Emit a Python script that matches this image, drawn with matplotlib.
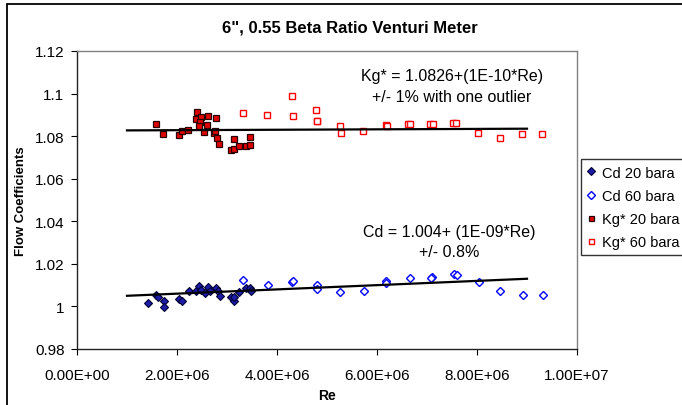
import matplotlib
matplotlib.use('Agg')
import matplotlib.pyplot as plt
from matplotlib.patches import Rectangle
from matplotlib.ticker import FuncFormatter, MultipleLocator
import numpy as np

plt.rcParams['font.family'] = ['Liberation Sans', 'DejaVu Sans']

# Cd 20 bara
re_cd20 = [1.41e6, 1.58e6, 1.61e6, 1.74e6, 1.73e6, 2.03e6, 2.10e6, 2.23e6, 2.38e6, 2.44e6,
           2.47e6, 2.55e6, 2.61e6, 2.66e6, 2.77e6, 2.81e6, 2.86e6, 3.07e6, 3.13e6, 3.14e6,
           3.25e6, 3.39e6, 3.47e6, 3.49e6]
cd20 = [1.0015, 1.0054, 1.0043, 1.0024, 0.9997, 1.0035, 1.0027, 1.0071, 1.0074, 1.0097,
        1.0079, 1.0062, 1.0090, 1.0074, 1.0085, 1.0071, 1.0048, 1.0046, 1.0024, 1.0043,
        1.0069, 1.0085, 1.0085, 1.0073]

# Cd 60 bara
re_cd60 = [3.33e6, 3.81e6, 4.30e6, 4.31e6, 4.79e6, 4.79e6, 5.26e6, 5.73e6, 6.18e6, 6.18e6,
           6.66e6, 7.11e6, 7.09e6, 7.55e6, 7.60e6, 8.04e6, 8.47e6, 8.91e6, 9.31e6]
cd60 = [1.0126, 1.0101, 1.0116, 1.0118, 1.0101, 1.0082, 1.0066, 1.0074, 1.0121, 1.0111,
        1.0134, 1.0140, 1.0133, 1.0152, 1.0147, 1.0116, 1.0074, 1.0054, 1.0054]

# Kg* 20 bara
re_kg20 = [1.57e6, 1.72e6, 2.03e6, 2.09e6, 2.21e6, 2.39e6, 2.37e6, 2.48e6, 2.61e6, 2.46e6,
           2.44e6, 2.59e6, 2.54e6, 2.78e6, 2.73e6, 2.76e6, 2.80e6, 2.84e6, 3.13e6, 3.07e6,
           3.13e6, 3.23e6, 3.38e6, 3.46e6, 3.47e6]
kg20 = [1.0857, 1.0810, 1.0807, 1.0826, 1.0830, 1.0912, 1.0881, 1.0891, 1.0896, 1.0865,
        1.0846, 1.0852, 1.0818, 1.0887, 1.0813, 1.0826, 1.0790, 1.0762, 1.0787, 1.0735,
        1.0740, 1.0755, 1.0755, 1.0760, 1.0797]

# Kg* 60 bara
re_kg60 = [3.32e6, 3.79e6, 4.29e6, 4.31e6, 4.77e6, 4.79e6, 4.80e6, 5.25e6, 5.27e6, 5.72e6,
           6.17e6, 6.20e6, 6.63e6, 6.67e6, 7.07e6, 7.13e6, 7.53e6, 7.59e6, 8.03e6, 8.46e6,
           8.90e6, 9.29e6]
kg60 = [1.0907, 1.0898, 1.0989, 1.0893, 1.0923, 1.0873, 1.0870, 1.0849, 1.0815, 1.0826,
        1.0852, 1.0850, 1.0857, 1.0857, 1.0857, 1.0857, 1.0862, 1.0862, 1.0816, 1.0790,
        1.0810, 1.0810]

# trend line fits
re_fit = np.array([1.0e6, 9.0e6])
kg_fit = 1.0826 + 1e-10 * re_fit
cd_fit = 1.004 + 1e-9 * re_fit

fig = plt.figure(figsize=(6.82, 4.06), dpi=100)
ax = fig.add_axes([77 / 682, 1 - 350 / 406, 500 / 682, 298 / 406])

ax.plot(re_cd20, cd20, linestyle='none', marker='D', markersize=4.5,
        markerfacecolor='#1c1ca8', markeredgecolor='#000033', markeredgewidth=0.8,
        label='Cd 20 bara', zorder=3)
ax.plot(re_cd60, cd60, linestyle='none', marker='D', markersize=4.5,
        markerfacecolor='white', markeredgecolor='#0000ff', markeredgewidth=1.0,
        label='Cd 60 bara', zorder=3)
ax.plot(re_kg20, kg20, linestyle='none', marker='s', markersize=4.5,
        markerfacecolor='#e00000', markeredgecolor='#2a0000', markeredgewidth=0.9,
        label='Kg* 20 bara', zorder=3)
ax.plot(re_kg60, kg60, linestyle='none', marker='s', markersize=4.5,
        markerfacecolor='white', markeredgecolor='#ff0000', markeredgewidth=1.0,
        label='Kg* 60 bara', zorder=3)

ax.plot(re_fit, kg_fit, color='black', lw=1.6, zorder=4)
ax.plot(re_fit, cd_fit, color='black', lw=1.6, zorder=4)

ax.text(7.5e6, 1.1083, 'Kg* = 1.0826+(1E-10*Re)', ha='center', va='center', fontsize=11.5)
ax.text(7.5e6, 1.0984, '+/- 1% with one outlier', ha='center', va='center', fontsize=11.5)
ax.text(7.44e6, 1.0354, 'Cd = 1.004+ (1E-09*Re)', ha='center', va='center', fontsize=11.5)
ax.text(7.44e6, 1.0256, '+/- 0.8%', ha='center', va='center', fontsize=11.5)

ax.set_xlim(0, 1e7)
ax.set_ylim(0.98, 1.12)
ax.xaxis.set_major_locator(MultipleLocator(2e6))
ax.yaxis.set_major_locator(MultipleLocator(0.02))
ax.xaxis.set_major_formatter(FuncFormatter(lambda v, p: f'{v:.2E}'))
ax.yaxis.set_major_formatter(FuncFormatter(lambda v, p: f'{v:g}'))
ax.tick_params(axis='both', direction='out', length=4, width=0.8, labelsize=11, color='black')
ax.tick_params(axis='x', pad=10)
ax.tick_params(axis='y', pad=5)

for side in ['top', 'right']:
    ax.spines[side].set_color('#808080')
    ax.spines[side].set_linewidth(1.0)
for side in ['left', 'bottom']:
    ax.spines[side].set_color('#222222')
    ax.spines[side].set_linewidth(1.0)

ax.set_xlabel('Re', fontsize=10, fontweight='bold', labelpad=4)
ax.set_ylabel('Flow Coefficients', fontsize=9.5, fontweight='bold', labelpad=6)

fig.text(350 / 682, 1 - 28 / 406, '6", 0.55 Beta Ratio Venturi Meter',
         ha='center', va='center', fontsize=12, fontweight='bold')

leg = fig.legend(loc='upper left', bbox_to_anchor=(581 / 682, 1 - 160 / 406),
                 bbox_transform=fig.transFigure, borderaxespad=0, fontsize=10.5,
                 frameon=True, fancybox=False, edgecolor='black',
                 handlelength=0.5, handletextpad=0.5, labelspacing=0.62,
                 borderpad=0.45, numpoints=1, markerscale=0.8)
leg.get_frame().set_linewidth(1.0)

# chart border
fig.patches.append(Rectangle((7 / 682, -0.1), 1.2, 1.1 - 5 / 406,
                             transform=fig.transFigure, fill=False,
                             edgecolor='black', linewidth=1.3))

fig.savefig('out.png', dpi=100)
plt.close(fig)
